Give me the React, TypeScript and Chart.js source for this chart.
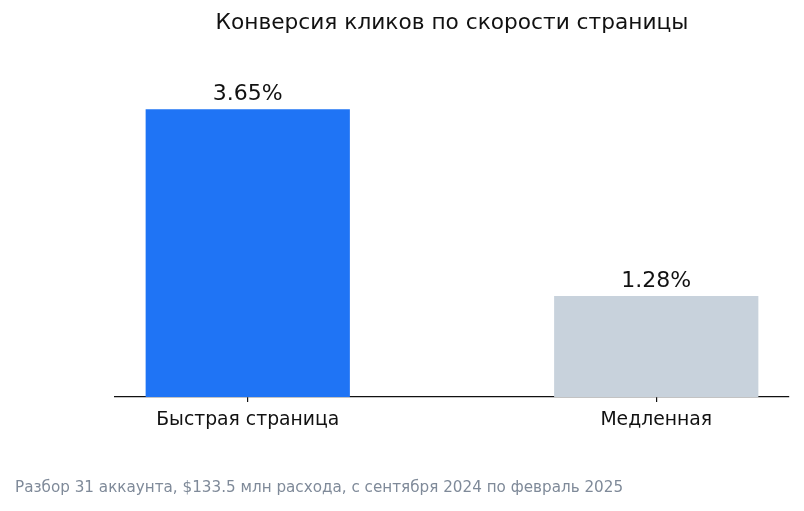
import { useEffect, useRef } from "react";
import { Chart, registerables, Plugin } from "chart.js";

Chart.register(...registerables);

const categories = ["Быстрая страница", "Медленная"];
const conversion = [3.65, 1.28];
const barColors = ["#1f74f5", "#c8d2dc"];
const chartTitle = "Конверсия кликов по скорости страницы";
const footnote =
  "Разбор 31 аккаунта, $133.5 млн расхода, с сентября 2024 по февраль 2025";

const FONT = "'DejaVu Sans', sans-serif";

const textPlugin: Plugin<"bar"> = {
  id: "texts",
  afterDraw(chart) {
    const { ctx, chartArea } = chart;
    ctx.save();
    // title
    ctx.fillStyle = "#111111";
    ctx.font = `21.7px ${FONT}`;
    ctx.textAlign = "center";
    ctx.textBaseline = "middle";
    ctx.fillText(chartTitle, (chartArea.left + chartArea.right) / 2, 23);

    // value labels above bars
    const meta = chart.getDatasetMeta(0);
    ctx.font = `22px ${FONT}`;
    ctx.textBaseline = "bottom";
    meta.data.forEach((bar, i) => {
      ctx.fillText(conversion[i].toFixed(2) + "%", bar.x, bar.y - 4);
    });

    // footnote
    ctx.fillStyle = "#7f8a99";
    ctx.font = `15.2px ${FONT}`;
    ctx.textAlign = "left";
    ctx.textBaseline = "middle";
    ctx.fillText(footnote, 15, 488);
    ctx.restore();
  },
};

function ConversionChart() {
  const chartRef = useRef<HTMLCanvasElement | null>(null);
  const chartInstanceRef = useRef<Chart | null>(null);

  useEffect(() => {
    if (!chartRef.current) return;
    const ctx = chartRef.current.getContext("2d");
    if (!ctx) return;

    chartInstanceRef.current?.destroy();

    chartInstanceRef.current = new Chart(ctx, {
      type: "bar",
      data: {
        datasets: [
          {
            data: conversion.map((v, i) => ({ x: i, y: v })),
            backgroundColor: barColors,
            barPercentage: 0.5,
            categoryPercentage: 1,
          },
        ],
      },
      options: {
        responsive: false,
        animation: false,
        layout: { padding: { left: 115, right: 15, top: 66, bottom: 0 } },
        plugins: {
          legend: { display: false },
          tooltip: { enabled: false },
          title: { display: false },
        },
        scales: {
          x: {
            type: "linear",
            offset: false,
            min: -0.325,
            max: 1.325,
            afterBuildTicks: (scale) => {
              scale.ticks = categories.map((_, i) => ({ value: i }));
            },
            afterFit: (scale) => {
              scale.height = 114;
            },
            grid: {
              display: true,
              offset: false,
              drawOnChartArea: false,
              drawTicks: true,
              tickLength: 5,
              color: "#111111",
              lineWidth: 1.2,
            },
            border: { display: true, color: "#111111", width: 1.3 },
            ticks: {
              color: "#111111",
              padding: 7,
              font: { family: FONT, size: 18.8 },
              callback: (value) => categories[Number(value)] ?? "",
            },
          },
          y: {
            display: false,
            min: 0,
            max: 4.2,
          },
        },
      },
      plugins: [textPlugin],
    });

    return () => {
      chartInstanceRef.current?.destroy();
      chartInstanceRef.current = null;
    };
  }, []);

  return (
    <div style={{ position: "fixed", left: 0, top: 0, width: 804, height: 511, background: "#ffffff" }}>
      <canvas ref={chartRef} width={804} height={511} />
    </div>
  );
}

export default function App() {
  return <ConversionChart />;
}
